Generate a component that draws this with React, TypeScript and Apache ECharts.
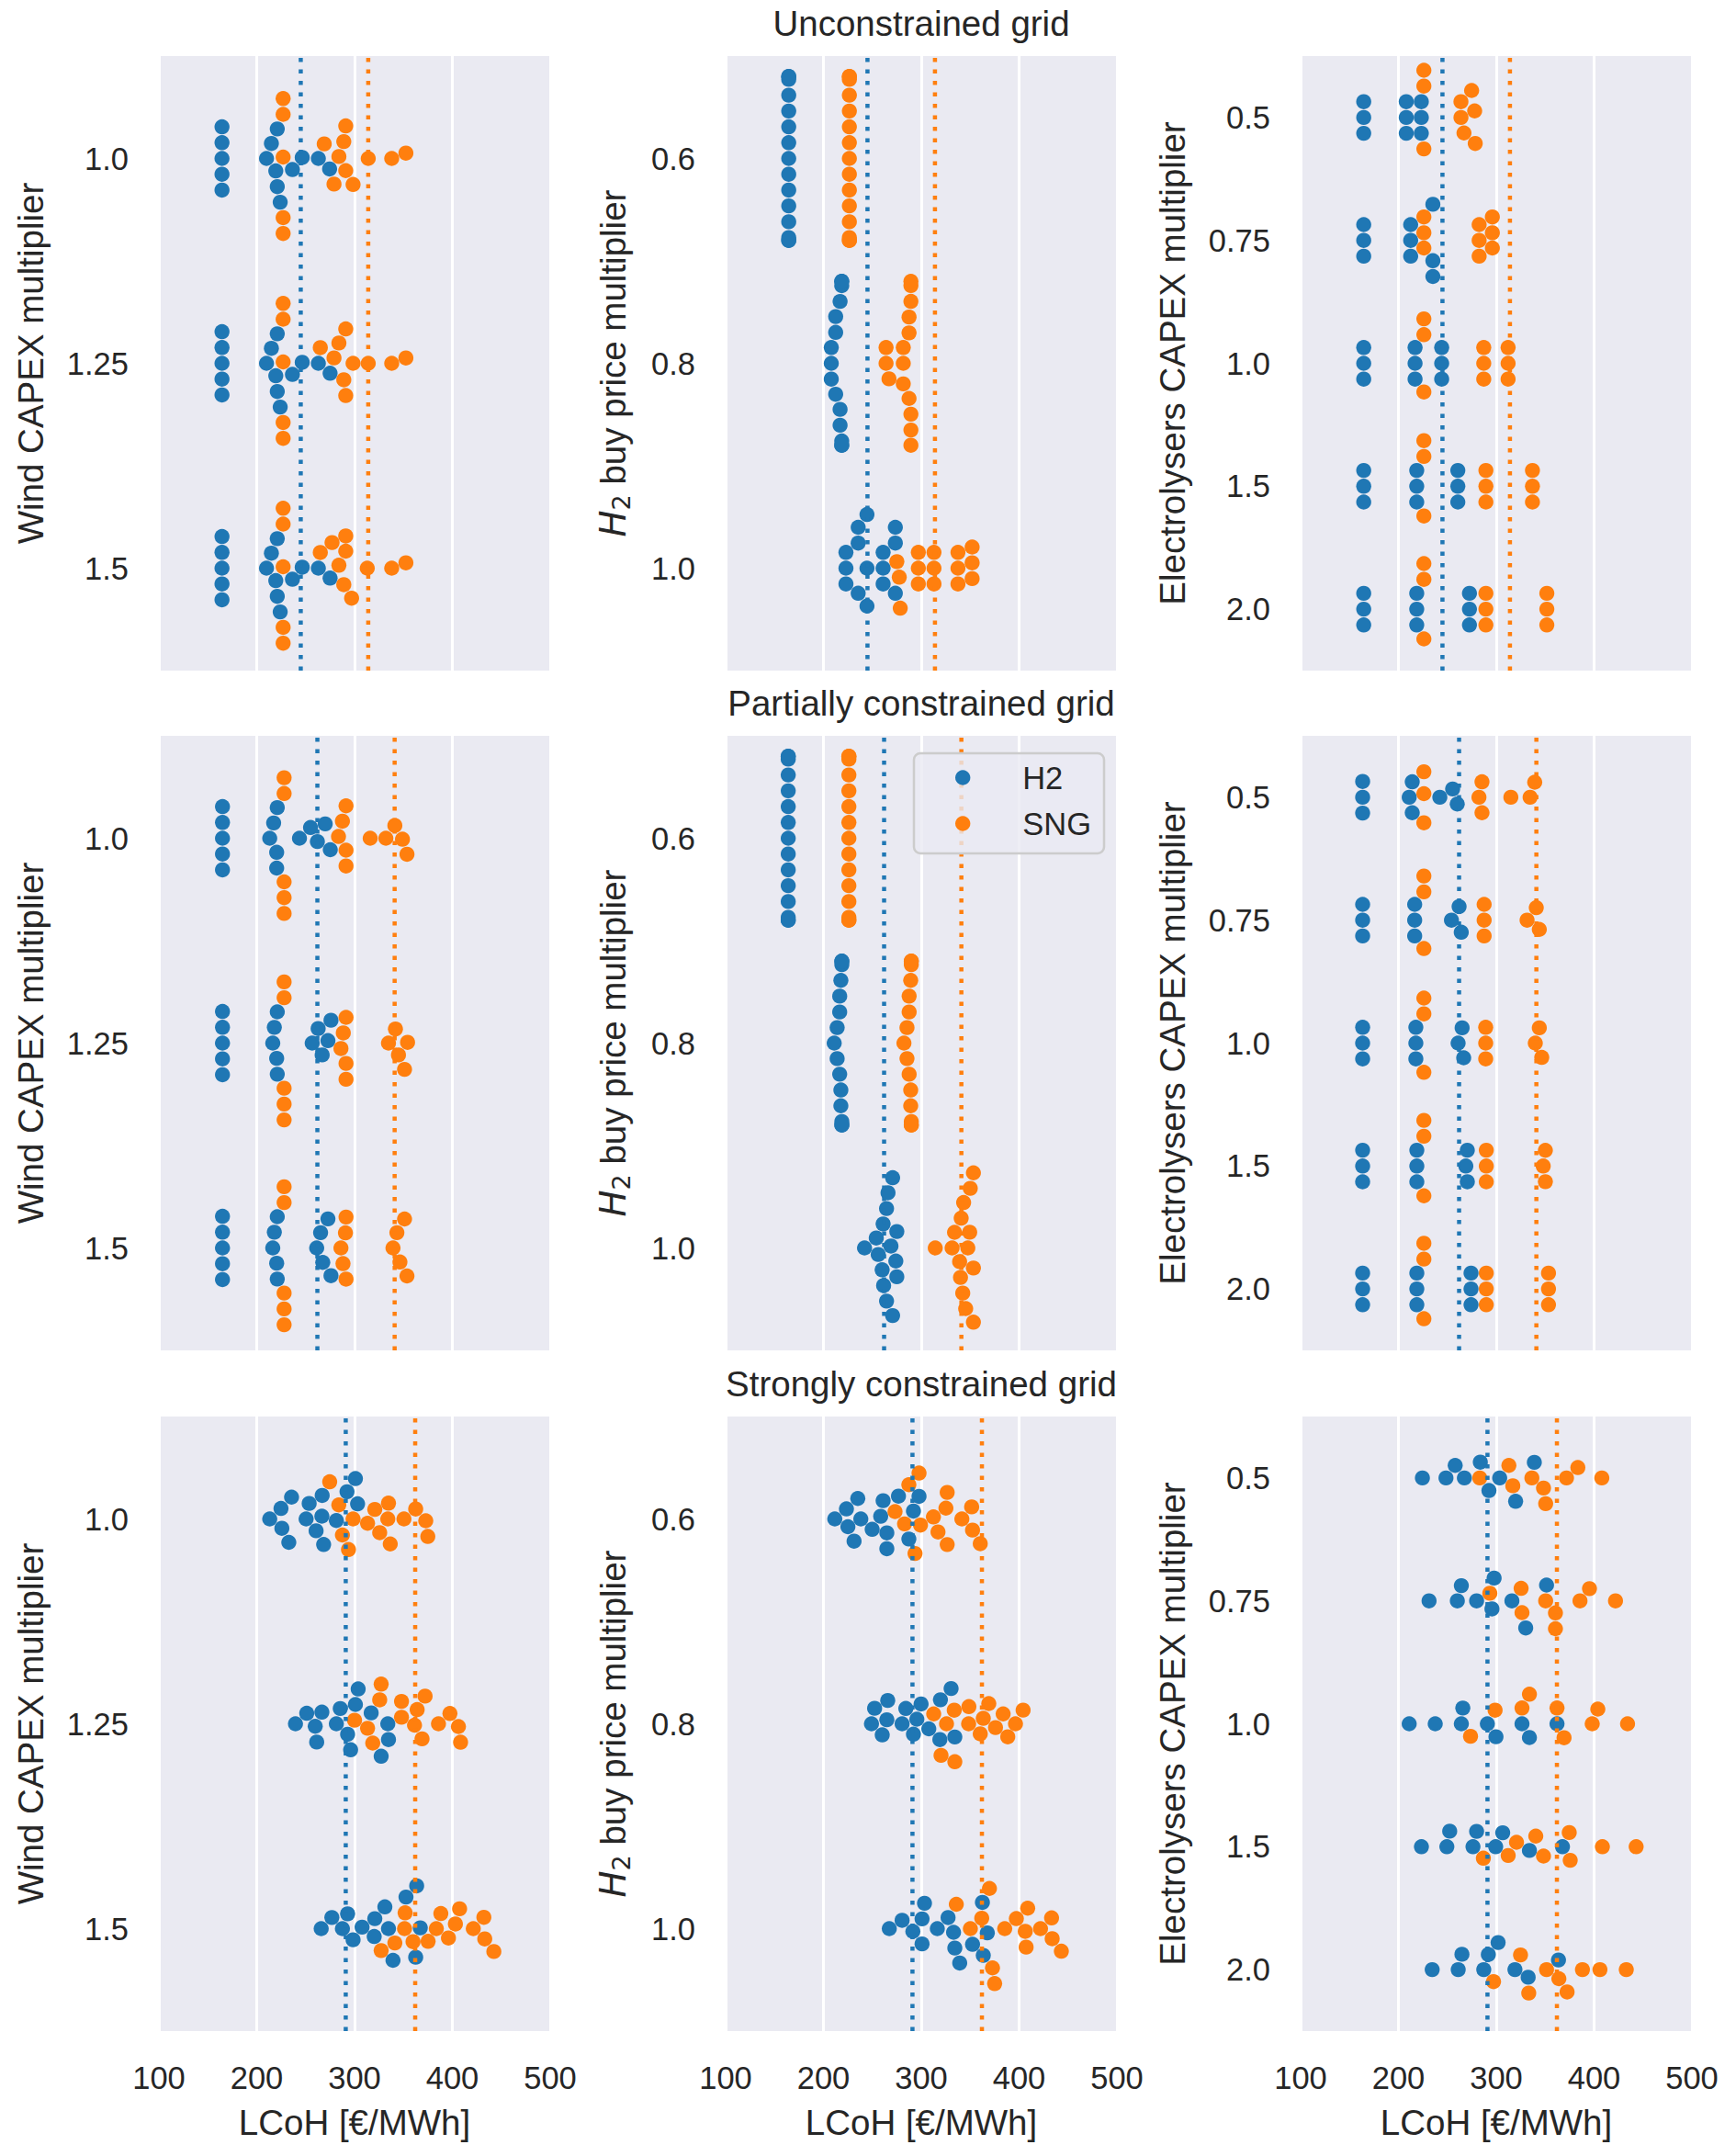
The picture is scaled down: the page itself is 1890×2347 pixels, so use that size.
import React, { useEffect, useRef } from "react";
import * as echarts from "echarts";

// ---------------- data (LCoH in €/MWh) ----------------
const gridTitles = ["Unconstrained grid", "Partially constrained grid", "Strongly constrained grid"];
const windLevels = ["1.0", "1.25", "1.5"];
const priceLevels = ["0.6", "0.8", "1.0"];
const elecLevels = ["0.5", "0.75", "1.0", "1.5", "2.0"];
const xTicks = [100, 200, 300, 400, 500];
const seriesNames = ["H2", "SNG"];

// reference (dotted) lines per grid case
const refH2 = [245, 262, 291];
const refSNG = [314, 341, 362];

// ---- Unconstrained grid ----
const uncWindH2 = [
  [164.5, 164.5, 164.5, 164.5, 164.5, 210, 215, 219.5, 221, 221, 224, 236.5, 246.5, 263, 274.5],
  [164.5, 164.5, 164.5, 164.5, 164.5, 210, 215, 219.5, 221, 221, 224, 236.5, 246.5, 263, 275],
  [164.5, 164.5, 164.5, 164.5, 164.5, 210, 215, 219.5, 221, 221, 224, 236.5, 246.5, 263, 275],
];
const uncWindSNG = [
  [227, 227, 227, 227, 227, 269, 279, 284, 289, 291, 291, 298.5, 314, 338, 352.5],
  [227, 227, 227, 227, 227, 265, 279, 284, 289, 291, 291, 298.5, 314, 338, 352.5],
  [227, 227, 227, 227, 227, 265, 277, 284, 289, 291, 291, 297, 313, 338, 352.5],
];
const uncPriceH2 = [
  [164.5, 164.5, 164.5, 164.5, 164.5, 164.5, 164.5, 164.5, 164.5, 164.5, 164.5, 164.5, 164.5, 164.5, 164.5],
  [208, 208, 208, 212.5, 212.5, 212.5, 217, 217, 217, 218.7, 218.7, 218.7, 218.7, 218.7, 218.7],
  [223, 223, 223, 235.5, 235.5, 235.5, 244.5, 244.5, 244.5, 261, 261, 261, 273.5, 273.5, 273.5],
];
const uncPriceSNG = [
  [226.5, 226.5, 226.5, 226.5, 226.5, 226.5, 226.5, 226.5, 226.5, 226.5, 226.5, 226.5, 226.5, 226.5, 226.5],
  [264, 264, 267, 281.6, 281.6, 281.6, 287.5, 287.5, 287.5, 289.4, 289.4, 289.4, 289.4, 289.4, 289.4],
  [275, 277.5, 278.5, 297, 297, 297, 313, 313, 313, 337.5, 337.5, 337.5, 352, 352, 352],
];
const uncElecH2 = [
  [164.5, 164.5, 164.5, 208, 208, 208, 223.4, 223.4, 223.4],
  [164.5, 164.5, 164.5, 212.5, 212.5, 212.5, 235.2, 235.2, 235.2],
  [164.5, 164.5, 164.5, 217, 217, 217, 244.2, 244.2, 244.2],
  [164.5, 164.5, 164.5, 218.7, 218.7, 218.7, 260.7, 260.7, 260.7],
  [164.5, 164.5, 164.5, 218.7, 218.7, 218.7, 272.6, 272.6, 272.6],
];
const uncElecSNG = [
  [226, 226, 226, 263.9, 263.9, 267, 274.8, 277.9, 278.5],
  [226, 226, 226, 282.5, 282.5, 282.5, 296, 296, 296],
  [226, 226, 226, 287.2, 287.2, 287.2, 312.1, 312.1, 312.1],
  [226, 226, 226, 289.4, 289.4, 289.4, 337, 337, 337],
  [226, 226, 226, 289.4, 289.4, 289.4, 351.7, 351.7, 351.7],
];

// ---- Partially constrained grid ----
const parWindH2 = [
  [165, 165, 165, 165, 165, 213.3, 217.3, 220.4, 220.4, 221, 243.7, 255, 262, 270, 275.2],
  [165, 165, 165, 165, 165, 216.4, 218, 220.4, 221, 221, 256.7, 262.8, 266.9, 272.8, 275.9],
  [165, 165, 165, 165, 165, 216.4, 218, 220.4, 221, 221, 261.3, 265.3, 267.5, 272.8, 275.9],
];
const parWindSNG = [
  [228, 228, 228, 228, 228, 283.6, 287.6, 291.3, 291.3, 291.3, 316, 332, 341.2, 349, 353.6],
  [228, 228, 228, 228, 228, 286.1, 288.5, 291.3, 291.3, 291.3, 334.7, 341.8, 344.9, 351.1, 354.2],
  [228, 228, 228, 228, 228, 286.1, 288.2, 290.7, 291.3, 291.3, 339.3, 343.3, 346.4, 351.1, 353.6],
];
const parPriceH2 = [
  [164, 164, 164, 164, 164, 164, 164, 164, 164, 164, 164, 164, 164, 164, 164],
  [211, 214, 214, 216.6, 216.6, 216.6, 217.8, 217.8, 217.8, 218.8, 218.8, 218.8, 218.8, 218.8, 218.8],
  [242, 254, 256, 260, 261, 261.5, 264.5, 264.5, 266, 269, 270.7, 270.7, 274, 275, 275],
];
const parPriceSNG = [
  [226, 226, 226, 226, 226, 226, 226, 226, 226, 226, 226, 226, 226, 226, 226],
  [282.3, 285.4, 285.4, 287.6, 287.6, 287.6, 289.2, 289.2, 289.2, 289.8, 289.8, 289.8, 289.8, 289.8, 289.8],
  [314.3, 331.5, 334, 339.2, 340.1, 340.8, 342.4, 343.3, 345.4, 347.6, 349.5, 350.1, 353.3, 353.3, 353.3],
];
const parElecH2 = [
  [163.4, 163.4, 163.4, 211, 214.1, 214.1, 242.3, 255.4, 260.1],
  [163.4, 163.4, 163.4, 216.6, 216.6, 216.6, 254.2, 262, 264.2],
  [163.4, 163.4, 163.4, 217.8, 217.8, 217.8, 261, 265.1, 266.7],
  [163.4, 163.4, 163.4, 218.8, 218.8, 218.8, 268.9, 270.4, 270.4],
  [163.4, 163.4, 163.4, 218.8, 218.8, 218.8, 274.2, 274.2, 274.2],
];
const parElecSNG = [
  [226, 226, 226, 282.3, 285.4, 285.4, 314.9, 334.6, 339.3],
  [226, 226, 226, 287.6, 287.6, 287.6, 331.5, 340.9, 344],
  [226, 226, 226, 289.2, 289.2, 289.2, 339.9, 344, 346.5],
  [226, 226, 226, 289.8, 289.8, 289.8, 348, 350.2, 350.2],
  [226, 226, 226, 289.8, 289.8, 289.8, 353.4, 353.4, 353.4],
];

// ---- Strongly constrained grid ----
const strWindH2 = [
  [213.3, 224.8, 225.7, 232.8, 235.6, 250.5, 253.6, 260.7, 266.6, 266.9, 268.4, 281.4, 292.3, 300.9, 303.1],
  [239.6, 251.1, 259.8, 261.3, 266.6, 281.4, 285.4, 292.9, 296, 300.9, 303.7, 317, 327.2, 334, 334.7],
  [265.9, 276.8, 287.6, 292.9, 298.5, 307.7, 320.1, 320.7, 331, 334.7, 339.3, 352.6, 362.5, 363.5, 367.2],
];
const strWindSNG = [
  [274.6, 283.9, 287.6, 293.8, 298.5, 313.3, 320.7, 325.7, 334, 334.7, 336.5, 350.5, 362.5, 372.8, 374.9],
  [300, 313.3, 318.6, 325.7, 327.2, 348, 348, 361.3, 364, 369, 372.1, 385.8, 397.5, 406.2, 408.4],
  [327.2, 341.2, 351.1, 351.7, 359.8, 375.2, 383.6, 388.2, 396, 403.1, 407.4, 421.4, 432.2, 433.1, 442.4],
];
const strPriceH2 = [
  [211.6, 223.5, 225, 231.3, 235.1, 238.2, 249.8, 258.5, 261, 264.8, 264.8, 276.7, 287.3, 292, 297.7],
  [249.1, 252.3, 260.1, 264.8, 265.7, 280.4, 284.2, 292, 295.5, 299.8, 307.7, 319, 319.6, 330.5, 334.3],
  [267.3, 280.4, 291.4, 300.8, 300.8, 303.3, 316.4, 327.4, 333, 334.3, 339.3, 352.4, 362.5, 363.4, 367.5],
];
const strPriceSNG = [
  [273.2, 282.9, 287.3, 293.6, 297.7, 299.2, 312.4, 317.1, 325.2, 326.5, 326.5, 341.5, 351.5, 352.4, 360.3],
  [312.7, 320.2, 325.8, 333.7, 334.3, 348.4, 348.7, 360.3, 363.4, 369, 375.9, 383.7, 388.4, 396.3, 404.1],
  [335.8, 350.2, 361.8, 369.7, 372.8, 375, 385.3, 397.2, 406.3, 407.2, 408.8, 421.9, 433.2, 433.8, 443.2],
];
const strElecH2 = [
  [224.5, 248.6, 258, 267.4, 283.7, 292.5, 303.5, 319.8, 338.9],
  [231.3, 260.2, 264.3, 279.9, 295.6, 297.8, 316, 330.1, 351.4],
  [211, 237.6, 264.3, 265.8, 290.9, 299.7, 326.3, 333.9, 362.1],
  [223.5, 249.5, 252.4, 276.2, 279.9, 299.4, 306.6, 333.9, 367.7],
  [234.5, 261.1, 264.9, 287.2, 291.9, 301.9, 319.1, 332.6, 363.6],
];
const strElecSNG = [
  [283.1, 312.9, 316.9, 336.4, 348.3, 350.5, 371.8, 383.4, 407.9],
  [293.4, 325.4, 326.3, 350.5, 360.5, 360.5, 385.6, 395.3, 421.9],
  [273.7, 298.8, 326.3, 333.9, 362.1, 369.3, 398.1, 403.8, 434.2],
  [286.8, 312.2, 320.7, 340.4, 348.3, 374.6, 375.6, 408.5, 443],
  [297.2, 324.8, 333.2, 351.4, 364, 372.4, 388.1, 406, 432.9],
];

// ---------------- layout / style ----------------
const W = 1890;
const H = 2347;
const COL_LEFT = [173, 790, 1416];
const ROW_TOP = [61, 801, 1542];
const PW = 426;
const PH = 669;
const FONT = "'Liberation Sans', Arial, Helvetica, sans-serif";
const TEXT = "#262626";
const BLUE = "#1f77b4";
const ORANGE = "#ff7f0e";
const BG = "#eaeaf2";
const DOT = 16.4;
const TICK_FS = 34.5;
const LABEL_FS = 38.5;
const Y_LABEL_X = [33, 667, 1276];

const panelData = [
  [
    { h2: uncWindH2, sng: uncWindSNG, levels: windLevels },
    { h2: uncPriceH2, sng: uncPriceSNG, levels: priceLevels },
    { h2: uncElecH2, sng: uncElecSNG, levels: elecLevels },
  ],
  [
    { h2: parWindH2, sng: parWindSNG, levels: windLevels },
    { h2: parPriceH2, sng: parPriceSNG, levels: priceLevels },
    { h2: parElecH2, sng: parElecSNG, levels: elecLevels },
  ],
  [
    { h2: strWindH2, sng: strWindSNG, levels: windLevels },
    { h2: strPriceH2, sng: strPriceSNG, levels: priceLevels },
    { h2: strElecH2, sng: strElecSNG, levels: elecLevels },
  ],
];

// seaborn-like beeswarm: returns categorical offsets in pixels (screen-down positive)
function swarmOffsets(vals: number[], kx: number, d: number, limit: number): number[] {
  const order = vals.map((_, i) => i).sort((a, b) => vals[a] - vals[b] || a - b);
  const placed: { x: number; y: number }[] = [];
  const res: number[] = new Array(vals.length).fill(0);
  order.forEach((idx, j) => {
    const y = vals[idx] * kx;
    if (j === 0) {
      placed.push({ x: 0, y });
      res[idx] = 0;
      return;
    }
    const neigh: { x: number; y: number }[] = [];
    for (let q = placed.length - 1; q >= 0; q--) {
      if (y - placed[q].y < d) neigh.push(placed[q]);
      else break;
    }
    neigh.reverse();
    const cands: number[] = [0];
    let leftFirst = true;
    for (const nb of neigh) {
      const dy = y - nb.y;
      const dx = Math.sqrt(Math.max(d * d - dy * dy, 0)) * 1.05;
      const cl = nb.x - dx;
      const cr = nb.x + dx;
      if (leftFirst) cands.push(cl, cr);
      else cands.push(cr, cl);
      leftFirst = !leftFirst;
    }
    const sorted = cands
      .map((c, i) => ({ c, i }))
      .sort((a, b) => Math.abs(a.c) - Math.abs(b.c) || a.i - b.i);
    let chosen = sorted[sorted.length - 1].c;
    for (const { c } of sorted) {
      if (neigh.every((nb) => (nb.x - c) ** 2 + (nb.y - y) ** 2 >= d * d - 1e-9)) {
        chosen = c;
        break;
      }
    }
    placed.push({ x: chosen, y });
    res[idx] = chosen;
  });
  return res.map((o) => Math.max(-limit, Math.min(limit, o)));
}

function buildOption() {
  const grid: any[] = [];
  const xAxis: any[] = [];
  const yAxis: any[] = [];
  const series: any[] = [];
  const graphic: any[] = [];
  const kx = PW / (xTicks[xTicks.length - 1] - xTicks[0]);

  for (let r = 0; r < 3; r++) {
    for (let c = 0; c < 3; c++) {
      const idx = r * 3 + c;
      const p = panelData[r][c];
      const n = p.levels.length;
      const catPx = PH / n;
      grid.push({
        left: COL_LEFT[c],
        top: ROW_TOP[r],
        width: PW,
        height: PH,
        show: true,
        backgroundColor: BG,
        borderWidth: 0,
      });
      xAxis.push({
        gridIndex: idx,
        type: "value",
        min: xTicks[0],
        max: xTicks[xTicks.length - 1],
        interval: 100,
        axisLine: { show: false },
        axisTick: { show: false },
        splitLine: { show: true, lineStyle: { color: "#ffffff", width: 3 } },
        axisLabel: {
          show: r === 2,
          margin: 33,
          fontSize: TICK_FS,
          color: TEXT,
          fontFamily: FONT,
        },
      });
      const levels = p.levels;
      yAxis.push({
        gridIndex: idx,
        type: "value",
        inverse: true,
        min: -0.5,
        max: n - 0.5,
        interval: 0.5,
        axisLine: { show: false },
        axisTick: { show: false },
        splitLine: { show: false },
        axisLabel: {
          margin: 33,
          fontSize: TICK_FS,
          color: TEXT,
          fontFamily: FONT,
          formatter: (v: number) => {
            const i = Math.round(v);
            return Math.abs(v - i) < 1e-6 && levels[i] !== undefined ? levels[i] : "";
          },
        },
      });

      const h2Pts: number[][] = [];
      const sngPts: number[][] = [];
      for (let i = 0; i < n; i++) {
        const a = p.h2[i];
        const b = p.sng[i];
        const vals = [...a, ...b];
        const offs = swarmOffsets(vals, kx, DOT, 0.4 * catPx);
        vals.forEach((v, k) => {
          const pt = [v, i + offs[k] / catPx];
          if (k < a.length) h2Pts.push(pt);
          else sngPts.push(pt);
        });
      }
      series.push({
        name: seriesNames[0],
        type: "scatter",
        xAxisIndex: idx,
        yAxisIndex: idx,
        data: h2Pts,
        symbol: "circle",
        symbolSize: DOT,
        itemStyle: { color: BLUE, opacity: 1 },
        z: 2,
        silent: true,
      });
      series.push({
        name: seriesNames[1],
        type: "scatter",
        xAxisIndex: idx,
        yAxisIndex: idx,
        data: sngPts,
        symbol: "circle",
        symbolSize: DOT,
        itemStyle: { color: ORANGE, opacity: 1 },
        z: 2,
        silent: true,
      });
      const refs = [
        { v: refH2[r], color: BLUE },
        { v: refSNG[r], color: ORANGE },
      ];
      refs.forEach((rf) => {
        series.push({
          type: "line",
          xAxisIndex: idx,
          yAxisIndex: idx,
          data: [
            [rf.v, n - 0.5],
            [rf.v, -0.5],
          ],
          symbol: "none",
          silent: true,
          lineStyle: { color: rf.color, width: 4.5, type: [4.5, 8], cap: "butt" },
          z: 5,
        });
      });

      // y-axis titles
      const cy = ROW_TOP[r] + PH / 2;
      if (c === 1) {
        graphic.push({
          type: "text",
          x: Y_LABEL_X[c],
          y: cy,
          rotation: Math.PI / 2,
          style: {
            text: "{h|H}{s|2}{n| buy price multiplier}",
            align: "center",
            verticalAlign: "middle",
            textAlign: "center",
            textVerticalAlign: "middle",
            rich: {
              h: { fontSize: LABEL_FS, fontStyle: "italic", fontFamily: "'DejaVu Sans', sans-serif", fill: TEXT, color: TEXT, lineHeight: 46 },
              s: { fontSize: 27, fontFamily: "'DejaVu Sans', sans-serif", fill: TEXT, color: TEXT, lineHeight: 20, verticalAlign: "bottom" },
              n: { fontSize: LABEL_FS, fontFamily: FONT, fill: TEXT, color: TEXT, lineHeight: 46 },
            },
          },
          z: 10,
        });
      } else {
        graphic.push({
          type: "text",
          x: Y_LABEL_X[c],
          y: cy,
          rotation: Math.PI / 2,
          style: {
            text: c === 0 ? "Wind CAPEX multiplier" : "Electrolysers CAPEX multiplier",
            fontSize: LABEL_FS,
            fontFamily: FONT,
            fill: TEXT,
            align: "center",
            verticalAlign: "middle",
            textAlign: "center",
            textVerticalAlign: "middle",
          },
          z: 10,
        });
      }
      if (r === 2) {
        graphic.push({
          type: "text",
          x: COL_LEFT[c] + PW / 2,
          y: 2310,
          style: {
            text: "LCoH [€/MWh]",
            fontSize: LABEL_FS,
            fontFamily: FONT,
            fill: TEXT,
            align: "center",
            verticalAlign: "middle",
            textAlign: "center",
            textVerticalAlign: "middle",
          },
          z: 10,
        });
      }
    }
    graphic.push({
      type: "text",
      x: COL_LEFT[1] + PW / 2,
      y: ROW_TOP[r] - 36,
      style: {
        text: gridTitles[r],
        fontSize: LABEL_FS,
        fontFamily: FONT,
        fill: TEXT,
        align: "center",
        verticalAlign: "middle",
        textAlign: "center",
        textVerticalAlign: "middle",
      },
      z: 10,
    });
  }

  // legend frame (row 2, column 2)
  graphic.push({
    type: "rect",
    shape: { x: 995, y: 820, width: 207, height: 109, r: 7 },
    style: { fill: "rgba(234,234,242,0.8)", stroke: "#cccccc", lineWidth: 2.5 },
    z: 19,
    silent: true,
  });

  return {
    animation: false,
    backgroundColor: "#ffffff",
    grid,
    xAxis,
    yAxis,
    series,
    graphic,
    legend: {
      data: seriesNames,
      orient: "vertical",
      left: 1035,
      top: 824,
      itemWidth: 120,
      itemHeight: DOT,
      itemGap: 15,
      icon: "circle",
      selectedMode: false,
      textStyle: { fontSize: TICK_FS, color: TEXT, fontFamily: FONT },
      z: 20,
    },
  };
}

export default function App() {
  const ref = useRef<HTMLDivElement>(null);
  useEffect(() => {
    if (!ref.current) return;
    const chart = echarts.init(ref.current, undefined, { renderer: "svg", width: W, height: H });
    chart.setOption(buildOption() as any);
    return () => {
      chart.dispose();
    };
  }, []);
  return (
    <div
      ref={ref}
      style={{ position: "absolute", left: 0, top: 0, width: W, height: H, background: "#ffffff" }}
    />
  );
}
